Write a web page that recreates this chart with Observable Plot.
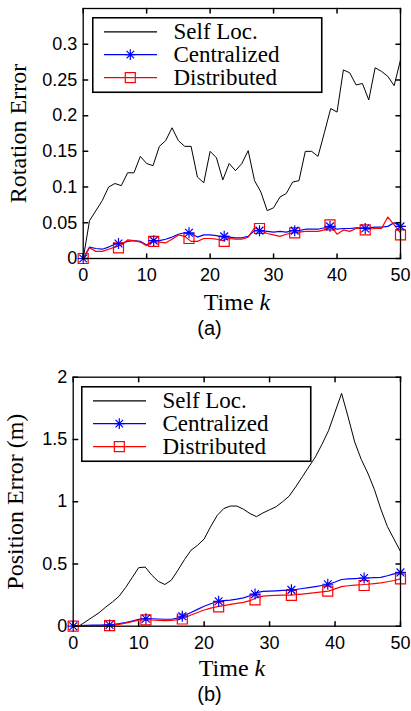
<!DOCTYPE html>
<html><head><meta charset="utf-8">
<script src="https://cdn.jsdelivr.net/npm/d3@7"></script>
<script src="https://cdn.jsdelivr.net/npm/@observablehq/plot@0.6"></script>
<style>
body{margin:0;background:#fff;}
#root{position:relative;width:411px;height:711px;overflow:hidden;background:#fff;}
.xlabel{position:absolute;font-family:"Liberation Serif","Times New Roman",serif;font-size:24px;line-height:20px;white-space:nowrap;transform:translateX(-50%);color:#000;}
.cap{position:absolute;font-family:"Liberation Sans",Arial,sans-serif;font-size:20px;line-height:18px;white-space:nowrap;transform:translateX(-50%);color:#000;}
</style></head><body><div id="root"></div>
<script>
// ---------- data ----------
const timeK = d3.range(0, 51);
const markerK = [0, 5.56, 11.11, 16.67, 22.22, 27.78, 33.33, 38.89, 44.44, 50];

const xTicks = [0, 10, 20, 30, 40, 50];
const xTickLabels = ["0", "10", "20", "30", "40", "50"];

// (a) rotation error
const rotTicks = [0, 0.05, 0.1, 0.15, 0.2, 0.25, 0.3];
const rotTickLabels = ["0", "0.05", "0.1", "0.15", "0.2", "0.25", "0.3"];
const rotSelf = [0, 0.053, 0.067, 0.081, 0.100, 0.105, 0.102, 0.120, 0.120, 0.143,
  0.133, 0.130, 0.157, 0.165, 0.183, 0.165, 0.157, 0.157, 0.114, 0.106,
  0.150, 0.141, 0.110, 0.133, 0.123, 0.133, 0.151, 0.109, 0.093, 0.067,
  0.071, 0.086, 0.091, 0.107, 0.109, 0.150, 0.150, 0.143, 0.176, 0.210,
  0.205, 0.264, 0.260, 0.243, 0.245, 0.222, 0.267, 0.262, 0.255, 0.242, 0.278];
const rotCent = [0, 0.016, 0.014, 0.013, 0.016, 0.020, 0.021, 0.024, 0.025, 0.024,
  0.019, 0.025, 0.025, 0.027, 0.030, 0.034, 0.036, 0.035, 0.030, 0.033,
  0.033, 0.032, 0.030, 0.030, 0.029, 0.029, 0.031, 0.039, 0.039, 0.038,
  0.037, 0.038, 0.037, 0.039, 0.039, 0.041, 0.041, 0.041, 0.043, 0.045,
  0.041, 0.042, 0.042, 0.043, 0.043, 0.043, 0.044, 0.044, 0.045, 0.050, 0.045];
const rotDist = [0, 0.015, 0.010, 0.010, 0.013, 0.016, 0.019, 0.026, 0.025, 0.023,
  0.018, 0.024, 0.023, 0.022, 0.027, 0.033, 0.031, 0.024, 0.024, 0.028,
  0.028, 0.027, 0.025, 0.028, 0.027, 0.027, 0.030, 0.043, 0.039, 0.035,
  0.033, 0.031, 0.034, 0.036, 0.037, 0.038, 0.038, 0.038, 0.040, 0.046,
  0.034, 0.040, 0.038, 0.042, 0.042, 0.041, 0.042, 0.042, 0.058, 0.047, 0.036];
const rotCentMarks = [0, 0.021, 0.025, 0.036, 0.031, 0.039, 0.039, 0.045, 0.042, 0.045];
const rotDistMarks = [0, 0.015, 0.024, 0.028, 0.024, 0.042, 0.036, 0.047, 0.040, 0.033];

// (b) position error
const posTicks = [0, 0.5, 1, 1.5, 2];
const posTickLabels = ["0", "0.5", "1", "1.5", "2"];
const posSelf = [0, 0.005, 0.040, 0.075, 0.110, 0.155, 0.195, 0.240, 0.310, 0.390,
  0.470, 0.475, 0.410, 0.360, 0.335, 0.370, 0.450, 0.535, 0.610, 0.650,
  0.700, 0.800, 0.890, 0.945, 0.965, 0.965, 0.940, 0.905, 0.880, 0.910,
  0.935, 0.960, 1.000, 1.045, 1.120, 1.200, 1.280, 1.360, 1.460, 1.570,
  1.720, 1.870, 1.680, 1.480, 1.340, 1.230, 1.100, 0.940, 0.800, 0.700, 0.600];
const posCent = [0, 0.005, 0.007, 0.008, 0.009, 0.010, 0.012, 0.020, 0.030, 0.042,
  0.055, 0.060, 0.060, 0.058, 0.056, 0.056, 0.065, 0.085, 0.110, 0.135,
  0.160, 0.180, 0.198, 0.205, 0.210, 0.218, 0.228, 0.245, 0.270, 0.280,
  0.282, 0.284, 0.287, 0.290, 0.295, 0.303, 0.310, 0.318, 0.327, 0.337,
  0.355, 0.375, 0.380, 0.382, 0.385, 0.387, 0.390, 0.392, 0.405, 0.420, 0.435];
const posDist = [0, 0.002, 0.003, 0.004, 0.005, 0.006, 0.008, 0.015, 0.025, 0.037,
  0.048, 0.052, 0.050, 0.047, 0.045, 0.046, 0.053, 0.068, 0.090, 0.110,
  0.130, 0.145, 0.157, 0.165, 0.175, 0.183, 0.192, 0.205, 0.230, 0.242,
  0.245, 0.247, 0.249, 0.250, 0.253, 0.258, 0.264, 0.270, 0.276, 0.282,
  0.300, 0.318, 0.325, 0.330, 0.333, 0.337, 0.342, 0.348, 0.357, 0.367, 0.380];
const posCentMarks = [0, 0.010, 0.060, 0.080, 0.200, 0.258, 0.292, 0.337, 0.387, 0.432];
const posDistMarks = [0, 0.004, 0.050, 0.058, 0.155, 0.212, 0.248, 0.282, 0.327, 0.380];

const seriesNames = ["Self Loc.", "Centralized", "Distributed"];
const seriesColors = ["#000000", "#0000ff", "#ff0000"];

// ---------- helpers ----------
const starSymbol = {draw(c, size) {
  const r = Math.sqrt(size / Math.PI);
  const d = r * Math.SQRT1_2;
  c.moveTo(-r, 0); c.lineTo(r, 0);
  c.moveTo(0, -r); c.lineTo(0, r);
  c.moveTo(-d, -d); c.lineTo(d, d);
  c.moveTo(-d, d); c.lineTo(d, -d);
}};
const squareSymbol = {draw(c, size) {
  const r = Math.sqrt(size / Math.PI);
  c.moveTo(-r, -r); c.lineTo(r, -r); c.lineTo(r, r); c.lineTo(-r, r); c.closePath();
}};
const tickShape = {draw(c, l) { c.moveTo(0, 0); c.lineTo(0, -l); }};

function panel({height, marginLeft, marginTop, marginBottom, yDomain, yTicks, yTickLabels,
                self, cent, dist, centMarks, distMarks, ylabel, ylabelX}) {
  const rows = (vals) => timeK.map((k, i) => ({k, v: vals[i]}));
  const mrows = (vals) => markerK.map((k, i) => ({k, v: vals[i]}));
  return Plot.plot({
    width: 411, height, marginLeft, marginRight: 11, marginTop, marginBottom,
    x: {domain: [0, 50]},
    y: {domain: yDomain},
    style: {fontFamily: "'Liberation Sans', Arial, sans-serif", fontSize: "18px", color: "black", background: "white", overflow: "visible"},
    marks: [
      Plot.line(rows(self), {x: "k", y: "v", stroke: seriesColors[0], strokeWidth: 1}),
      Plot.line(rows(cent), {x: "k", y: "v", stroke: seriesColors[1], strokeWidth: 1.2}),
      Plot.line(rows(dist), {x: "k", y: "v", stroke: seriesColors[2], strokeWidth: 1.2}),
      Plot.dot(mrows(distMarks), {x: "k", y: "v", symbol: squareSymbol, r: 5, stroke: seriesColors[2], fill: "none", strokeWidth: 1.2}),
      Plot.dot(mrows(centMarks), {x: "k", y: "v", symbol: starSymbol, r: 5.5, stroke: seriesColors[1], fill: "none", strokeWidth: 1.2}),
      Plot.frame({stroke: "black", strokeWidth: 1.3}),
      Plot.axisX({ticks: xTicks, tickFormat: d => xTickLabels[xTicks.indexOf(d)], tickSize: 0, tickPadding: 10, label: null, fontSize: 18}),
      Plot.axisY({ticks: yTicks, tickFormat: d => yTickLabels[yTicks.indexOf(d)], tickSize: 0, tickPadding: 6, label: null, fontSize: 18}),
      Plot.vector(xTicks, {x: d => d, frameAnchor: "bottom", length: 4.5, rotate: 0, anchor: "start", shape: tickShape, stroke: "black"}),
      Plot.vector(xTicks, {x: d => d, frameAnchor: "top", length: 4.5, rotate: 180, anchor: "start", shape: tickShape, stroke: "black"}),
      Plot.vector(yTicks, {y: d => d, frameAnchor: "left", length: 4.5, rotate: 90, anchor: "start", shape: tickShape, stroke: "black"}),
      Plot.vector(yTicks, {y: d => d, frameAnchor: "right", length: 4.5, rotate: -90, anchor: "start", shape: tickShape, stroke: "black"}),
      Plot.text([ylabel], {text: d => d, frameAnchor: "left", dx: ylabelX - marginLeft, rotate: -90,
        fontFamily: "'Liberation Serif', 'Times New Roman', serif", fontSize: 24, textAnchor: "middle", lineAnchor: "middle", fill: "black"})
    ]
  });
}

function legend(left, top) {
  const ns = "http://www.w3.org/2000/svg";
  const svg = document.createElementNS(ns, "svg");
  svg.setAttribute("width", 232); svg.setAttribute("height", 78);
  svg.style.position = "absolute"; svg.style.left = left + "px"; svg.style.top = top + "px";
  const el = (name, attrs) => { const e = document.createElementNS(ns, name); for (const k in attrs) e.setAttribute(k, attrs[k]); svg.appendChild(e); return e; };
  el("rect", {x: 0.75, y: 0.75, width: 229, height: 74.5, fill: "white", stroke: "black", "stroke-width": 1.6});
  const rowY = [14.8, 37.6, 60.6];
  seriesNames.forEach((name, i) => {
    const y = rowY[i];
    el("line", {x1: 12, x2: 65, y1: y, y2: y, stroke: seriesColors[i], "stroke-width": 1.2});
    const r = 5.3, cx = 38.3;
    if (i === 1) {
      const d = r * Math.SQRT1_2;
      el("path", {d: `M${cx - r},${y}H${cx + r}M${cx},${y - r}V${y + r}M${cx - d},${y - d}L${cx + d},${y + d}M${cx - d},${y + d}L${cx + d},${y - d}`, stroke: seriesColors[i], fill: "none", "stroke-width": 1.2});
    } else if (i === 2) {
      el("rect", {x: cx - 5, y: y - 5, width: 10, height: 10, stroke: seriesColors[i], fill: "none", "stroke-width": 1.2});
    }
    const t = el("text", {x: 81.5, y: y + 7.6, "font-family": "'Liberation Serif', 'Times New Roman', serif", "font-size": 23, fill: "black"});
    t.textContent = name;
  });
  return svg;
}

function place(node, top) { node.style.position = "absolute"; node.style.left = "0px"; node.style.top = top + "px"; return node; }
function label(cls, html, cx, top) { const d = document.createElement("div"); d.className = cls; d.innerHTML = html; d.style.left = cx + "px"; d.style.top = top + "px"; return d; }

const root = document.getElementById("root");

// panel (a)
root.appendChild(place(panel({
  height: 290, marginLeft: 82.7, marginTop: 8, marginBottom: 32,
  yDomain: [0, 0.35], yTicks: rotTicks, yTickLabels: rotTickLabels,
  self: rotSelf, cent: rotCent, dist: rotDist, centMarks: rotCentMarks, distMarks: rotDistMarks,
  ylabel: "Rotation Error", ylabelX: 17.5
}), 0));
root.appendChild(legend(91.5, 17.3));
root.appendChild(label("xlabel", "Time <i>k</i>", 237, 292));
root.appendChild(label("cap", "(a)", 209.5, 318.5));

// panel (b)
const topB = 360;
root.appendChild(place(panel({
  height: 296, marginLeft: 72.7, marginTop: 16.7, marginBottom: 30.3,
  yDomain: [0, 2], yTicks: posTicks, yTickLabels: posTickLabels,
  self: posSelf, cent: posCent, dist: posDist, centMarks: posCentMarks, distMarks: posDistMarks,
  ylabel: "Position Error (m)", ylabelX: 14.5
}), topB));
root.appendChild(legend(81, 386));
root.appendChild(label("xlabel", "Time <i>k</i>", 232, 657.5));
root.appendChild(label("cap", "(b)", 209.5, 685));
</script>
</body></html>
